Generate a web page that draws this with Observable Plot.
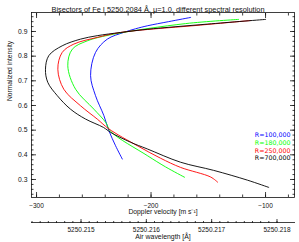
<!DOCTYPE html>
<html>
<head>
<meta charset="utf-8">
<script src="https://cdn.jsdelivr.net/npm/d3@7"></script>
<script src="https://cdn.jsdelivr.net/npm/@observablehq/plot@0.6"></script>
<style>
  body { margin: 0; background: #fff; }
  #wrap { position: relative; width: 299px; height: 242px; overflow: hidden; background: #fff; }
  #wrap svg { position: absolute; left: 0; }
</style>
</head>
<body>
<div id="wrap"></div>
<script>
// ---- data ----
const seriesNames = ["R=100,000", "R=180,000", "R=250,000", "R=700,000"];
const seriesColors = ["#0000ff", "#00ff00", "#ff0000", "#000000"];

const blueV  = [-165.4, -184.6, -203.3, -213.5, -224.0, -238.2, -248.5, -252.8, -248.5, -241.2, -236.8, -231.0, -225.1];
const blueI  = [0.957, 0.940, 0.923, 0.911, 0.896, 0.869, 0.815, 0.721, 0.640, 0.559, 0.498, 0.437, 0.383];

const greenV = [-123.5, -169.8, -232.7, -255.7, -268.8, -272.7, -265.9, -249.9, -239.7, -235.3, -203.3, -187.3, -170.7];
const greenI = [0.949, 0.932, 0.889, 0.862, 0.828, 0.761, 0.666, 0.585, 0.532, 0.495, 0.397, 0.351, 0.309];

const redV   = [-113.0, -156.7, -226.6, -247.0, -267.4, -277.6, -281.4, -276.2, -261.6, -247.0, -236.8, -212.0, -191.6, -174.2, -147.9, -141.8];
const redI   = [0.9445, 0.926, 0.896, 0.876, 0.849, 0.815, 0.747, 0.666, 0.599, 0.545, 0.505, 0.437, 0.386, 0.349, 0.310, 0.289];

const blackV = [-99.9, -150.6, -203.3, -226.6, -247.0, -261.6, -277.6, -289.3, -292.2, -290.2, -281.9, -270.3, -257.2, -241.5, -235.3, -217.9, -203.3, -174.2, -145.3, -115.6, -97.2];
const blackI = [0.949, 0.930, 0.909, 0.896, 0.883, 0.869, 0.842, 0.802, 0.747, 0.694, 0.640, 0.585, 0.545, 0.511, 0.491, 0.451, 0.424, 0.370, 0.337, 0.297, 0.268];

const vTicks = [-300, -200, -100];
const iTicks = [0.3, 0.4, 0.5, 0.6, 0.7, 0.8, 0.9];
const wlTicks = [5250.215, 5250.216, 5250.217, 5250.218];

const vDomain = [-304.4, -74.7];
const iDomain = [0.227, 0.977];
const wlDomain = [5250.214242, 5250.218268];

const titleText = "Bisectors of Fe I 5250.2084 Å, μ=1.0, different spectral resolution";
const xTitle = "Doppler velocity [m s⁻¹]";
const yTitle = "Normalized intensity";
const wlTitle = "Air wavelength [Å]";

// ---- build ----
const seriesData = [[blueV, blueI], [greenV, greenI], [redV, redI], [blackV, blackI]];
const rows = [];
seriesData.forEach(([V, I], k) => V.forEach((v, j) => rows.push({series: seriesNames[k], v, I: I[j]})));

const vMinor = d3.range(-300, -70, 20);
const iMinor = d3.range(24, 98, 2).map(d => d / 100);
const wlMinor = d3.range(2, 33).map(k => 5250.214 + k * 0.000125);

const font = "'Liberation Sans', Arial, Helvetica, sans-serif";
const legendFont = "'DejaVu Sans', 'Liberation Sans', sans-serif";
const ink = "#111";

const main = Plot.plot({
  width: 299, height: 216,
  marginLeft: 31, marginRight: 5, marginTop: 12, marginBottom: 19,
  style: {fontFamily: font, fontSize: "6.5px", color: ink, background: "transparent"},
  x: {domain: vDomain, label: null},
  y: {domain: iDomain, label: null},
  color: {domain: seriesNames, range: seriesColors},
  marks: [
    Plot.line(rows, {x: "v", y: "I", z: "series", stroke: "series", strokeWidth: 0.9, curve: "catmull-rom"}),
    Plot.frame({stroke: ink, strokeWidth: 0.8}),
    // velocity axis (bottom) labels + inward ticks, mirrored on top
    Plot.axisX({ticks: vTicks, tickSize: 0, tickPadding: 5.5, tickFormat: d3.format("d"), label: null}),
    Plot.axisX({ticks: vTicks, tickSize: -5, tickFormat: () => "", label: null, stroke: ink, strokeWidth: 0.8}),
    Plot.axisX({ticks: vMinor, tickSize: -2.5, tickFormat: () => "", label: null, stroke: ink, strokeWidth: 0.8}),
    Plot.axisX({anchor: "top", ticks: vTicks, tickSize: -5, tickFormat: () => "", label: null, stroke: ink, strokeWidth: 0.8}),
    Plot.axisX({anchor: "top", ticks: vMinor, tickSize: -2.5, tickFormat: () => "", label: null, stroke: ink, strokeWidth: 0.8}),
    // intensity axis
    Plot.axisY({ticks: iTicks, tickSize: 0, tickPadding: 4, tickFormat: d3.format(".1f"), label: null, fontSize: 6.8}),
    Plot.axisY({ticks: iTicks, tickSize: -5, tickFormat: () => "", label: null, stroke: ink, strokeWidth: 0.8}),
    Plot.axisY({ticks: iMinor, tickSize: -2.5, tickFormat: () => "", label: null, stroke: ink, strokeWidth: 0.8}),
    Plot.axisY({anchor: "right", ticks: iTicks, tickSize: -5, tickFormat: () => "", label: null, stroke: ink, strokeWidth: 0.8}),
    Plot.axisY({anchor: "right", ticks: iMinor, tickSize: -2.5, tickFormat: () => "", label: null, stroke: ink, strokeWidth: 0.8}),
    // titles
    Plot.text([titleText], {frameAnchor: "top", dy: -6, dx: -5, fontSize: 7.4, fill: ink}),
    Plot.text([xTitle], {frameAnchor: "bottom", dy: 16.5, fontSize: 6.8, fill: ink}),
    Plot.text([yTitle], {frameAnchor: "left", dx: -22, dy: -4, rotate: -90, fontSize: 6.7, fill: ink}),
    // legend
    ...seriesNames.map((name, i) =>
      Plot.text([name], {frameAnchor: "top-right", textAnchor: "end", dx: -4, dy: 120.5 + i * 7.55, fontSize: 6.3, fontFamily: legendFont, fill: seriesColors[i]}))
  ]
});
main.style.top = "0px";

const wl = Plot.plot({
  width: 299, height: 26,
  marginLeft: 31, marginRight: 5, marginTop: 6, marginBottom: 19,
  style: {fontFamily: font, fontSize: "6.5px", color: ink, background: "transparent"},
  x: {domain: wlDomain, label: null},
  marks: [
    Plot.frame({anchor: "top", stroke: ink, strokeWidth: 0.8}),
    Plot.axisX({anchor: "top", ticks: wlTicks, tickSize: 4, tickFormat: () => "", label: null, stroke: ink, strokeWidth: 0.8}),
    Plot.axisX({anchor: "top", ticks: wlMinor, tickSize: 2, tickFormat: () => "", label: null, stroke: ink, strokeWidth: 0.8}),
    Plot.axisX({anchor: "bottom", ticks: wlTicks, tickSize: 0, tickPadding: 3.5, tickFormat: d3.format(".3f"), label: null}),
    Plot.text([wlTitle], {frameAnchor: "bottom", dy: 15, fontSize: 6.9, fill: ink})
  ]
});
wl.style.top = "216px";

document.getElementById("wrap").append(main, wl);
</script>
</body>
</html>
